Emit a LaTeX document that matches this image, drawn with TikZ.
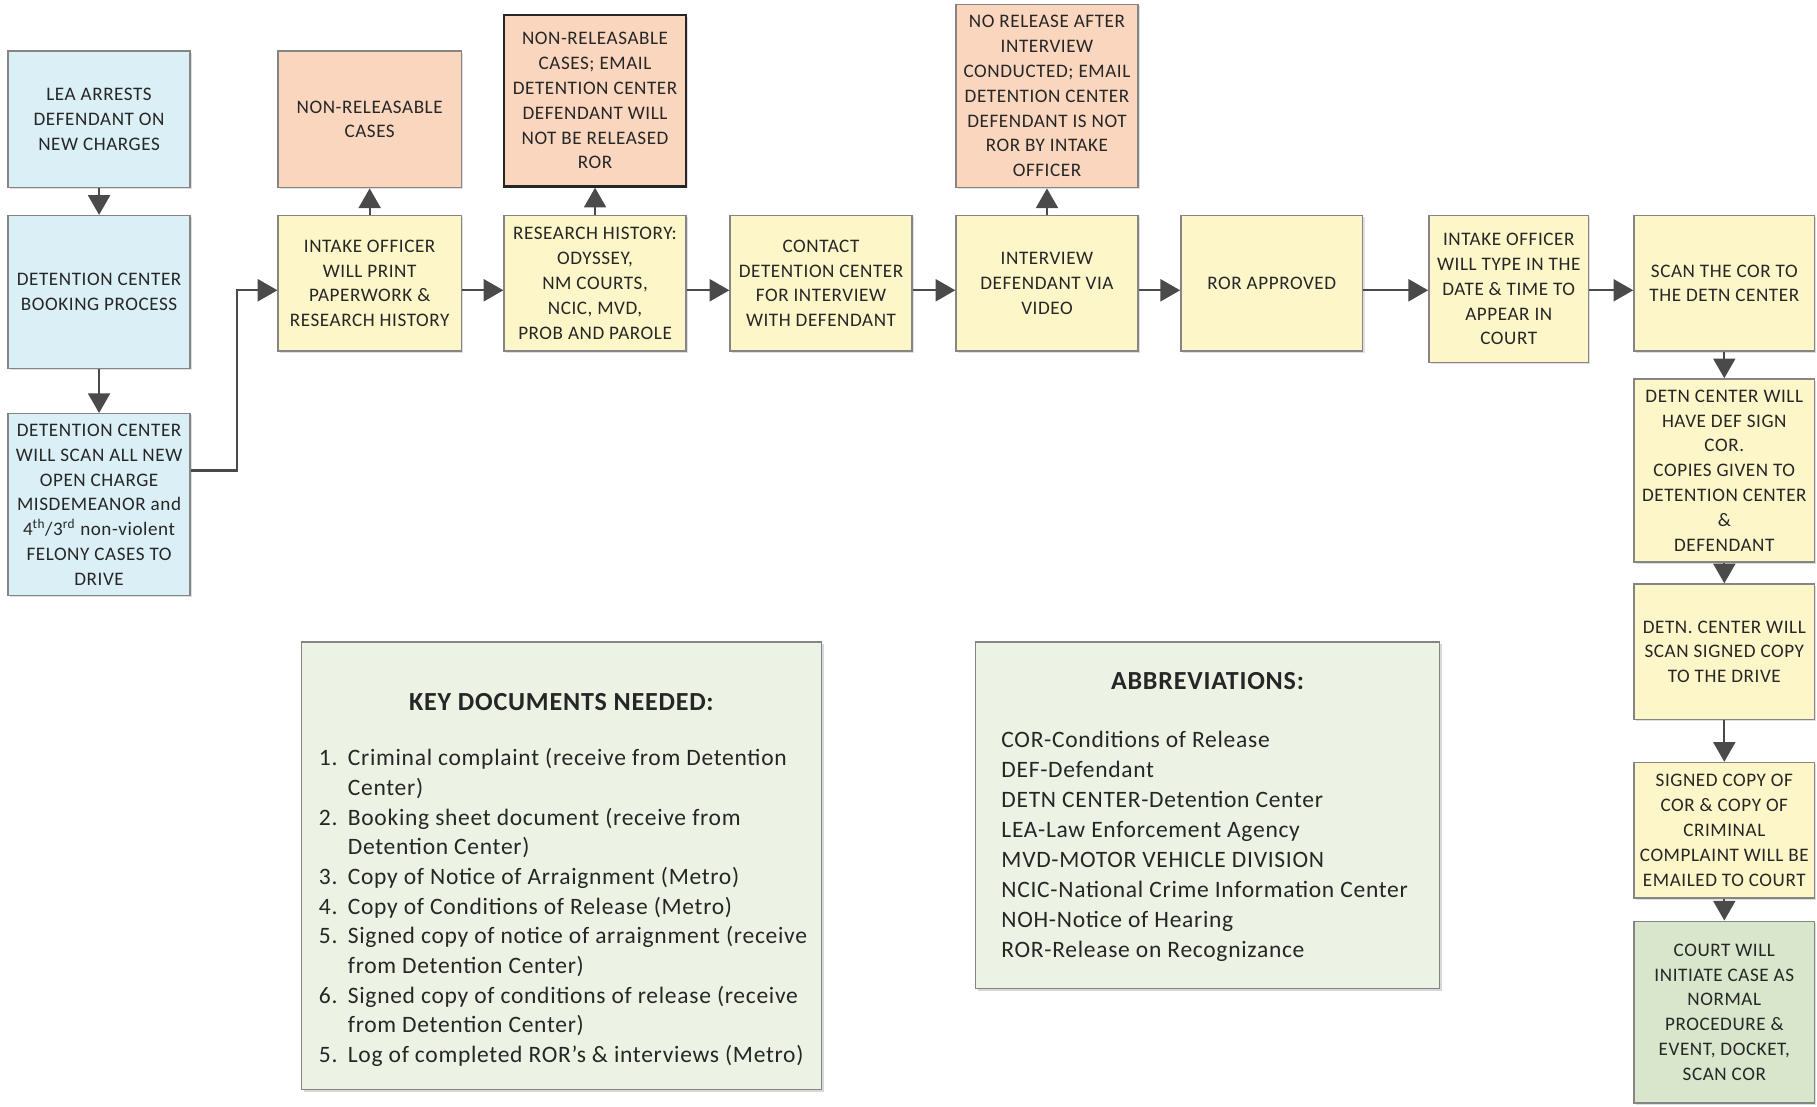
\documentclass[tikz,border=0pt]{standalone}
\usepackage{fontspec}
\setmainfont{Carlito}
\newfontfamily\boxfont[LetterSpace=3]{Carlito}
\newfontfamily\legfont[LetterSpace=3]{Carlito}
\usetikzlibrary{arrows.meta,shadows}
\definecolor{bluefill}{HTML}{DAF0F6}
\definecolor{yelfill}{HTML}{FCF6C8}
\definecolor{orfill}{HTML}{FAD6BE}
\definecolor{grnfill}{HTML}{D8E6CB}
\definecolor{legfill}{HTML}{ECF3E4}
\definecolor{boxline}{HTML}{858585}
\definecolor{linec}{HTML}{4A4A4A}
\definecolor{textc}{HTML}{262626}
\begin{document}
\begin{tikzpicture}[x=1pt,y=-1pt,
  box/.style={draw=boxline, line width=1.2pt, rectangle, align=center, inner sep=2pt,
    font={\boxfont\fontsize{16.5}{21.4}\selectfont}, text=textc, minimum width=157pt,
    drop shadow={shadow xshift=1.5pt, shadow yshift=-1.5pt, opacity=0.25}},
  bluebox/.style={box, fill=bluefill},
  yelbox/.style={box, fill=yelfill},
  orbox/.style={box, fill=orfill},
  grnbox/.style={box, fill=grnfill},
  legend/.style={draw=boxline, line width=1.2pt, fill=legfill, rectangle,
    drop shadow={shadow xshift=2pt, shadow yshift=-2pt, opacity=0.3}},
  legtitle/.style={font={\legfont\bfseries\fontsize{22.5}{26}\selectfont}, text=textc},
  conn/.style={draw=linec, line width=1.8pt, -{Triangle[length=17pt,width=19pt]}}
]
\useasboundingbox (0,0) rectangle (1568,955);
\fill[white] (0,0) rectangle (1568,955);
\coordinate (rowy) at (0,250.5);

% left column
\node[bluebox, minimum height=118pt] (lea) at (85.5,103) {LEA ARRESTS\\DEFENDANT ON\\NEW CHARGES};
\node[bluebox, minimum height=132pt] (book) at (85.5,252) {DETENTION CENTER\\BOOKING PROCESS};
\node[bluebox, minimum height=157pt] (scan) at (85.5,435.5) {DETENTION CENTER\\WILL SCAN ALL NEW\\OPEN CHARGE\\MISDEMEANOR and\\4\textsuperscript{th}/3\textsuperscript{rd} non-violent\\FELONY CASES TO\\DRIVE};

% top row
\node[orbox, minimum width=158pt, minimum height=118pt] (nonrel) at (319,103) {NON-RELEASABLE\\CASES};
\node[orbox, draw=textc, line width=2pt, minimum height=148pt] (email) at (513.5,87) {NON-RELEASABLE\\CASES; EMAIL\\DETENTION CENTER\\DEFENDANT WILL\\NOT BE RELEASED\\ROR};
\node[orbox, minimum height=158pt] (norelease) at (903.5,83) {NO RELEASE AFTER\\INTERVIEW\\CONDUCTED; EMAIL\\DETENTION CENTER\\DEFENDANT IS NOT\\ROR BY INTAKE\\OFFICER};

% main row
\node[yelbox, minimum width=158pt, minimum height=117pt] (intake) at (319,244.5) {INTAKE OFFICER\\WILL PRINT\\PAPERWORK \&\\RESEARCH HISTORY};
\node[yelbox, minimum height=117pt] (research) at (513.5,244.5) {RESEARCH HISTORY:\\ODYSSEY,\\NM COURTS,\\NCIC, MVD,\\PROB AND PAROLE};
\node[yelbox, minimum height=117pt] (contact) at (708.5,244.5) {CONTACT\\DETENTION CENTER\\FOR INTERVIEW\\WITH DEFENDANT};
\node[yelbox, minimum height=117pt] (interview) at (903.5,244.5) {INTERVIEW\\DEFENDANT VIA\\VIDEO};
\node[yelbox, minimum height=117pt] (rorapp) at (1097.5,244.5) {ROR APPROVED};
\node[yelbox, minimum width=138pt, minimum height=127pt] (type) at (1302,249.5) {INTAKE OFFICER\\WILL TYPE IN THE\\DATE \& TIME TO\\APPEAR IN\\COURT};
\node[yelbox, minimum width=156pt, minimum height=117pt] (scancor) at (1488,244.5) {SCAN THE COR TO\\THE DETN CENTER};

% right column
\node[yelbox, minimum width=156pt, minimum height=158pt] (signdef) at (1488,406) {DETN CENTER WILL\\HAVE DEF SIGN\\COR.\\COPIES GIVEN TO\\DETENTION CENTER\\\&\\DEFENDANT};
\node[yelbox, minimum width=156pt, minimum height=117pt] (scansigned) at (1488,562.5) {DETN. CENTER WILL\\SCAN SIGNED COPY\\TO THE DRIVE};
\node[yelbox, minimum width=156pt, minimum height=117pt] (emailed) at (1488,716.5) {SIGNED COPY OF\\COR \& COPY OF\\CRIMINAL\\COMPLAINT WILL BE\\EMAILED TO COURT};
\node[grnbox, minimum width=156pt, minimum height=157pt] (court) at (1488,873.5) {COURT WILL\\INITIATE CASE AS\\NORMAL\\PROCEDURE \&\\EVENT, DOCKET,\\SCAN COR};

% connectors
\draw[conn] (lea.south) -- (book.north);
\draw[conn] (book.south) -- (scan.north);
\draw[conn] ([yshift=29.5pt]scan.east) -- ++(40,0) |- (intake.west |- rowy);
\draw[conn] (intake.north) -- (nonrel.south);
\draw[conn] (research.north) -- (email.south);
\draw[conn] (interview.north) -- (norelease.south);
\draw[conn] (intake.east |- rowy) -- (research.west |- rowy);
\draw[conn] (research.east |- rowy) -- (contact.west |- rowy);
\draw[conn] (contact.east |- rowy) -- (interview.west |- rowy);
\draw[conn] (interview.east |- rowy) -- (rorapp.west |- rowy);
\draw[conn] (rorapp.east |- rowy) -- (type.west |- rowy);
\draw[conn] (type.east |- rowy) -- (scancor.west |- rowy);
\draw[conn] (scancor.south) -- (signdef.north);
\draw[conn] (signdef.south) -- (scansigned.north);
\draw[conn] (scansigned.south) -- (emailed.north);
\draw[conn] (emailed.south) -- (court.north);

% key documents
\node[legend, minimum width=449pt, minimum height=386pt] (keybox) at (484.5,747) {};
\node[legtitle] (keytitle) at (484.5,606) {KEY DOCUMENTS NEEDED:};
\node[anchor=base west, inner sep=0pt, text=textc, font={\legfont\fontsize{20.3}{25.6}\selectfont}] (keylist) at (275,661) {%
\begin{tabular}[t]{@{}l@{\hspace{9pt}}l@{}}
1. & Criminal complaint  (receive from Detention\\
   & Center)\\
2. & Booking sheet document (receive from\\
   & Detention Center)\\
3. & Copy of Notice of Arraignment (Metro)\\
4. & Copy of Conditions of Release (Metro)\\
5. & Signed copy of notice of arraignment (receive\\
   & from Detention Center)\\
6. & Signed copy of conditions of release (receive\\
   & from Detention Center)\\
5. & Log of completed ROR’s \& interviews (Metro)
\end{tabular}};

% abbreviations
\node[legend, minimum width=400pt, minimum height=299pt] (abbox) at (1042,703.5) {};
\node[legtitle] (abtitle) at (1042,588) {ABBREVIATIONS:};
\node[anchor=base west, inner sep=0pt, text=textc, font={\legfont\fontsize{20.3}{25.9}\selectfont}] (ablist) at (864,645) {%
\begin{tabular}[t]{@{}l@{}}
COR-Conditions of Release\\
DEF-Defendant\\
DETN CENTER-Detention Center\\
LEA-Law Enforcement Agency\\
MVD-MOTOR VEHICLE DIVISION\\
NCIC-National Crime Information Center\\
NOH-Notice of Hearing\\
ROR-Release on Recognizance
\end{tabular}};
\end{tikzpicture}
\end{document}
